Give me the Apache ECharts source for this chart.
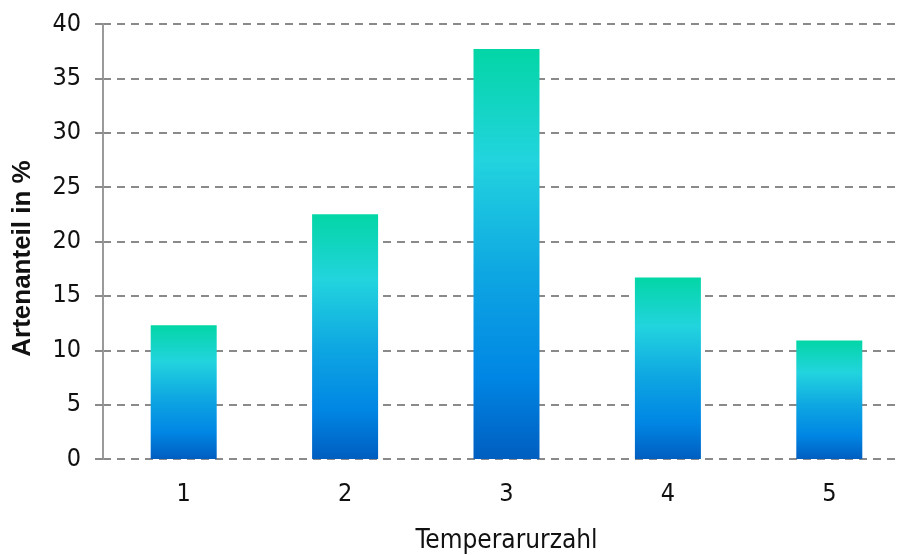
<!DOCTYPE html>
<html>
<head>
<meta charset="utf-8">
<script src="https://cdn.jsdelivr.net/npm/echarts@6/dist/echarts.min.js"></script>
<style>
  html, body { margin: 0; padding: 0; background: #fff; }
  #chart { width: 901px; height: 555px; }
</style>
</head>
<body>
<div id="chart"></div>
<script>
// Temperaturzahl classes and share of species per class (%)
const categories = ['1', '2', '3', '4', '5'];
const shares = [12.3, 22.5, 37.7, 16.7, 10.9];
const yTicks = { min: 0, max: 40, interval: 5 };

const tickFont = '"DejaVu Sans Condensed", "DejaVu Sans", sans-serif';
const titleFont = '"Liberation Sans", Arial, sans-serif';
const gridGray = '#8a8a8a';

const barGradient = new echarts.graphic.LinearGradient(0, 0, 0, 1, [
  { offset: 0.00, color: '#03d6a6' },
  { offset: 0.27, color: '#22d4de' },
  { offset: 0.55, color: '#0ea6e2' },
  { offset: 0.80, color: '#0086e4' },
  { offset: 1.00, color: '#005ec0' }
]);

const chart = echarts.init(document.getElementById('chart'), null, { renderer: 'canvas' });
chart.setOption({
  animation: false,
  // plot area runs a little past the right edge of the canvas
  grid: { left: 103, top: 24, width: 807, height: 435, containLabel: false, outerBoundsMode: 'none' },
  xAxis: {
    type: 'category',
    data: categories,
    name: 'Temperarurzahl',
    nameLocation: 'middle',
    nameGap: 69,
    nameTextStyle: { fontFamily: tickFont, fontSize: 26, color: '#111' },
    axisLine: { show: false },
    axisTick: { show: false },
    axisLabel: { fontFamily: tickFont, fontSize: 25, color: '#111', margin: 23 }
  },
  yAxis: {
    type: 'value',
    min: yTicks.min,
    max: yTicks.max,
    interval: yTicks.interval,
    name: 'Artenanteil in %',
    nameLocation: 'middle',
    nameGap: 67,
    nameTextStyle: {
      fontFamily: titleFont, fontWeight: 'bold', fontSize: 26, color: '#111',
      // nudge the rotated title a bit below the plot's vertical centre
      padding: [0, 34, 0, 0]
    },
    axisLine: { show: true, lineStyle: { color: '#9a9a9a', width: 2 } },
    axisTick: { show: true, length: 8, lineStyle: { color: gridGray, width: 2 } },
    axisLabel: { fontFamily: tickFont, fontSize: 25, color: '#111', margin: 22 },
    splitLine: { show: true, lineStyle: { color: gridGray, width: 2, type: [8, 6] } }
  },
  series: [{
    type: 'bar',
    data: shares,
    barWidth: 66,
    itemStyle: { color: barGradient }
  }]
});
</script>
</body>
</html>
